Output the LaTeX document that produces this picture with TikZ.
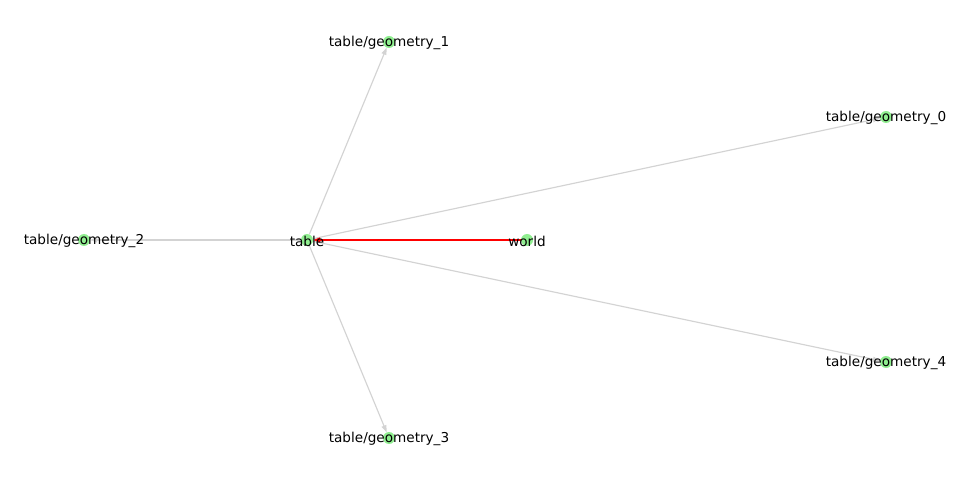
\documentclass[tikz,border=0pt]{standalone}
\usepackage{fontspec}
\setmainfont{DejaVu Sans}
\usetikzlibrary{arrows.meta}
\definecolor{nodegreen}{HTML}{90EE90}
\definecolor{edgegray}{HTML}{D3D3D3}
\definecolor{edgered}{HTML}{FF0000}
\tikzset{
  dot/.style={circle, fill=nodegreen, draw=none, minimum size=12bp, inner sep=0pt},
  lbl/.style={inner sep=0pt, yshift=-1bp, font=\fontsize{13.6bp}{16bp}\selectfont, text=black},
  edge/.style={color=edgegray, line width=1.15bp, -{Triangle[length=7bp,width=5bp]}},
  redge/.style={color=edgered, line width=1.3bp, -{Triangle[length=7bp,width=5bp]}}
}
\begin{document}
\begin{tikzpicture}[x=1bp,y=-1bp]
\useasboundingbox (0,0) rectangle (969,480);
\node[dot] (table) at (307,240) {};
\node[dot] (world) at (527,240) {};
\node[dot] (g0) at (886,117) {};
\node[dot] (g1) at (389,42) {};
\node[dot] (g2) at (84,240) {};
\node[dot] (g3) at (389,438) {};
\node[dot] (g4) at (886,362) {};
\draw[edge] (table) -- (g0);
\draw[edge] (table) -- (g1);
\draw[edge] (table) -- (g2);
\draw[edge] (table) -- (g3);
\draw[edge] (table) -- (g4);
\draw[redge] (world) -- (table);
\node[lbl] (ltable) at (table) {table};
\node[lbl] (lworld) at (world) {world};
\node[lbl] (lg0) at (g0) {table/geometry\_0};
\node[lbl] (lg1) at (g1) {table/geometry\_1};
\node[lbl] (lg2) at (g2) {table/geometry\_2};
\node[lbl] (lg3) at (g3) {table/geometry\_3};
\node[lbl] (lg4) at (g4) {table/geometry\_4};
\end{tikzpicture}
\end{document}
